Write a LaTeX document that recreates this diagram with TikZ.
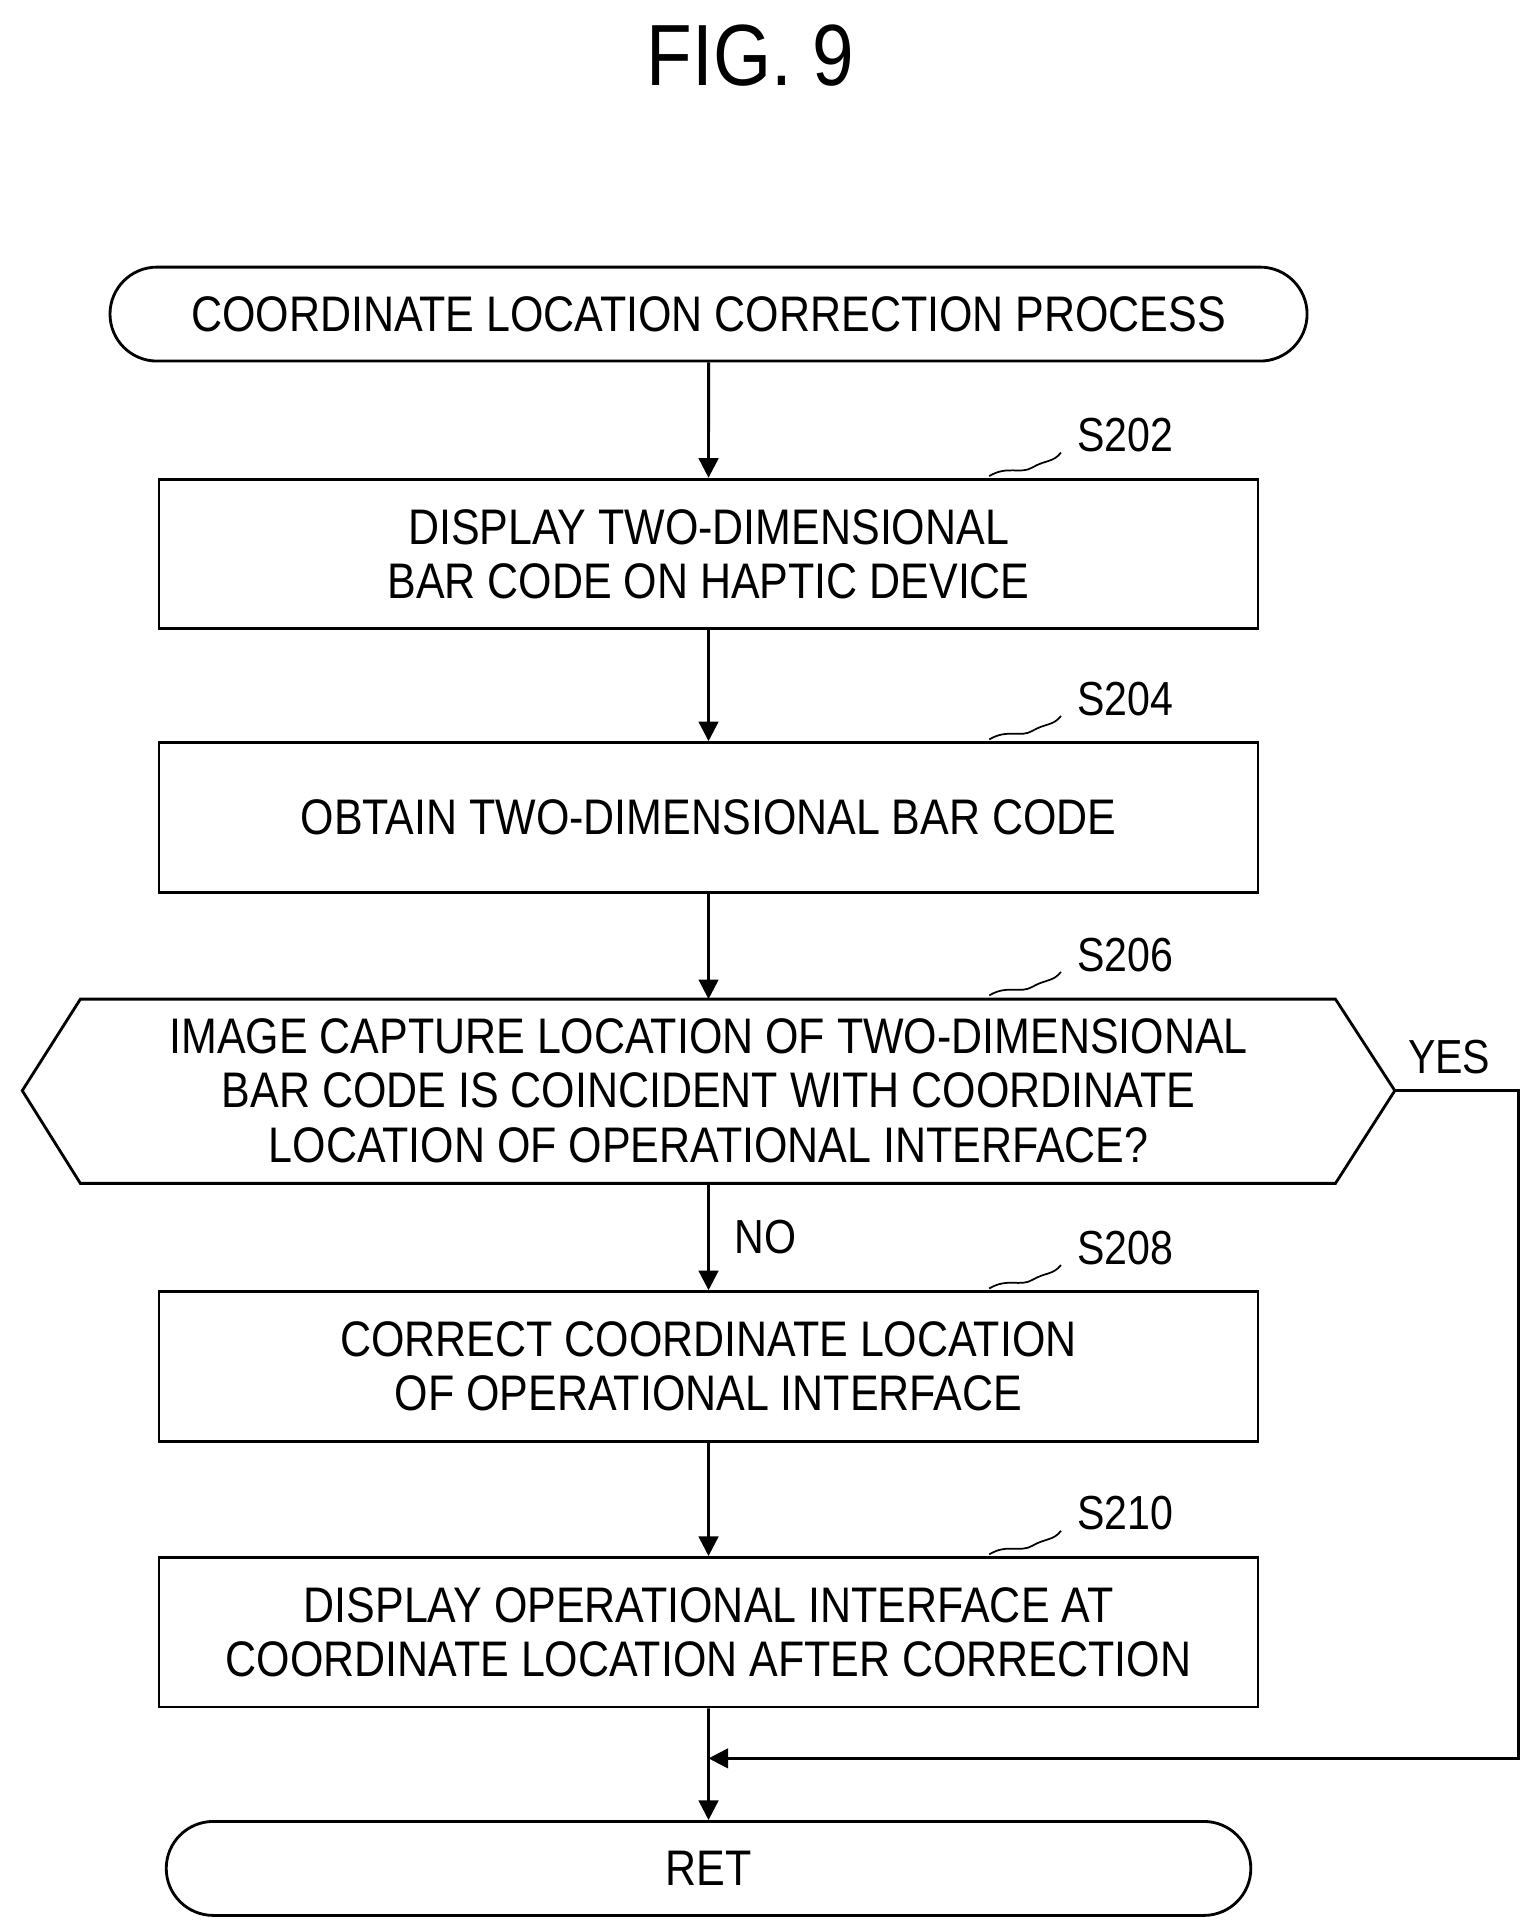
\documentclass[tikz,border=0pt]{standalone}
\usepackage{fontspec}
\setmainfont{Liberation Sans}[FakeStretch=0.86]
\usetikzlibrary{positioning}
\usetikzlibrary{shapes.misc,arrows.meta}

\tikzset{
  procbox/.style={draw, line width=1.3pt, minimum width=17.78cm, minimum height=2.42cm,
               align=center, font=\fontsize{23}{25}\selectfont},
  term/.style={draw, line width=1.3pt, rounded rectangle, minimum height=1.52cm,
               align=center, font=\fontsize{23}{25}\selectfont},
  flow/.style={line width=1.3pt, -{Triangle[length=9pt,width=9pt]}},
  steplabel/.style={font=\fontsize{22}{24}\selectfont},
}

\begin{document}
\begin{tikzpicture}[x=0.02cm, y=-0.02cm]
    \useasboundingbox (0,0) rectangle (1240,1560);

    \node (title) at (607,45) {\fontsize{40}{44}\selectfont FIG. 9};

    \node (start) [term, minimum width=19.6cm] at (573,254) {COORDINATE LOCATION CORRECTION PROCESS};
    \node (s202) [procbox] at (573,448) {DISPLAY TWO-DIMENSIONAL\\BAR CODE ON HAPTIC DEVICE};
    \node (s204) [procbox] at (573,661) {OBTAIN TWO-DIMENSIONAL BAR CODE};
    \node (s206) [font=\fontsize{23}{25}\selectfont, align=center] at (573,882)
      {IMAGE CAPTURE LOCATION OF TWO-DIMENSIONAL\\BAR CODE IS COINCIDENT WITH COORDINATE\\LOCATION OF OPERATIONAL INTERFACE?};
    \coordinate (s206l) at (18,882);
    \coordinate (s206r) at (1128,882);
    \coordinate (s206t) at (573,808);
    \coordinate (s206b) at (573,957);
    \draw[line width=1.3pt] (s206l) -- (65,808) -- (1080,808) -- (s206r) -- (1080,957) -- (65,957) -- cycle;
    \node (s208) [procbox] at (573,1105) {CORRECT COORDINATE LOCATION\\OF OPERATIONAL INTERFACE};
    \node (s210) [procbox] at (573,1320) {DISPLAY OPERATIONAL INTERFACE AT\\COORDINATE LOCATION AFTER CORRECTION};
    \node (ret) [term, minimum width=17.78cm] at (573,1511) {RET};

    % step labels
    \foreach \n/\y in {202/388, 204/601, 206/808, 208/1045, 210/1260} {
      \node [steplabel, anchor=west] (l\n) at (865,\y-36) {S\n};
      \draw[line width=0.8pt] (800,\y-3) .. controls (815,\y-12) and (825,\y-4) .. (835,\y-10)
                              .. controls (845,\y-16) and (852,\y-14) .. (858,\y-22);
    }

    \draw[flow] (start) -- (s202);
    \draw[flow] (s202) -- (s204);
    \draw[flow] (s204) -- (s206t);
    \draw[flow] (s206b) -- node[right, steplabel, xshift=8pt] (no) {NO} (s208);
    \draw[flow] (s208) -- (s210);
    \draw[flow] (s210) -- (ret);

    \coordinate (join) at (573,1422);
    \node (yes) [steplabel] at (1172,855) {YES};
    \draw[flow] (s206r) -- (1228,882) -- (1228,1422) -- (join);
\end{tikzpicture}
\end{document}
